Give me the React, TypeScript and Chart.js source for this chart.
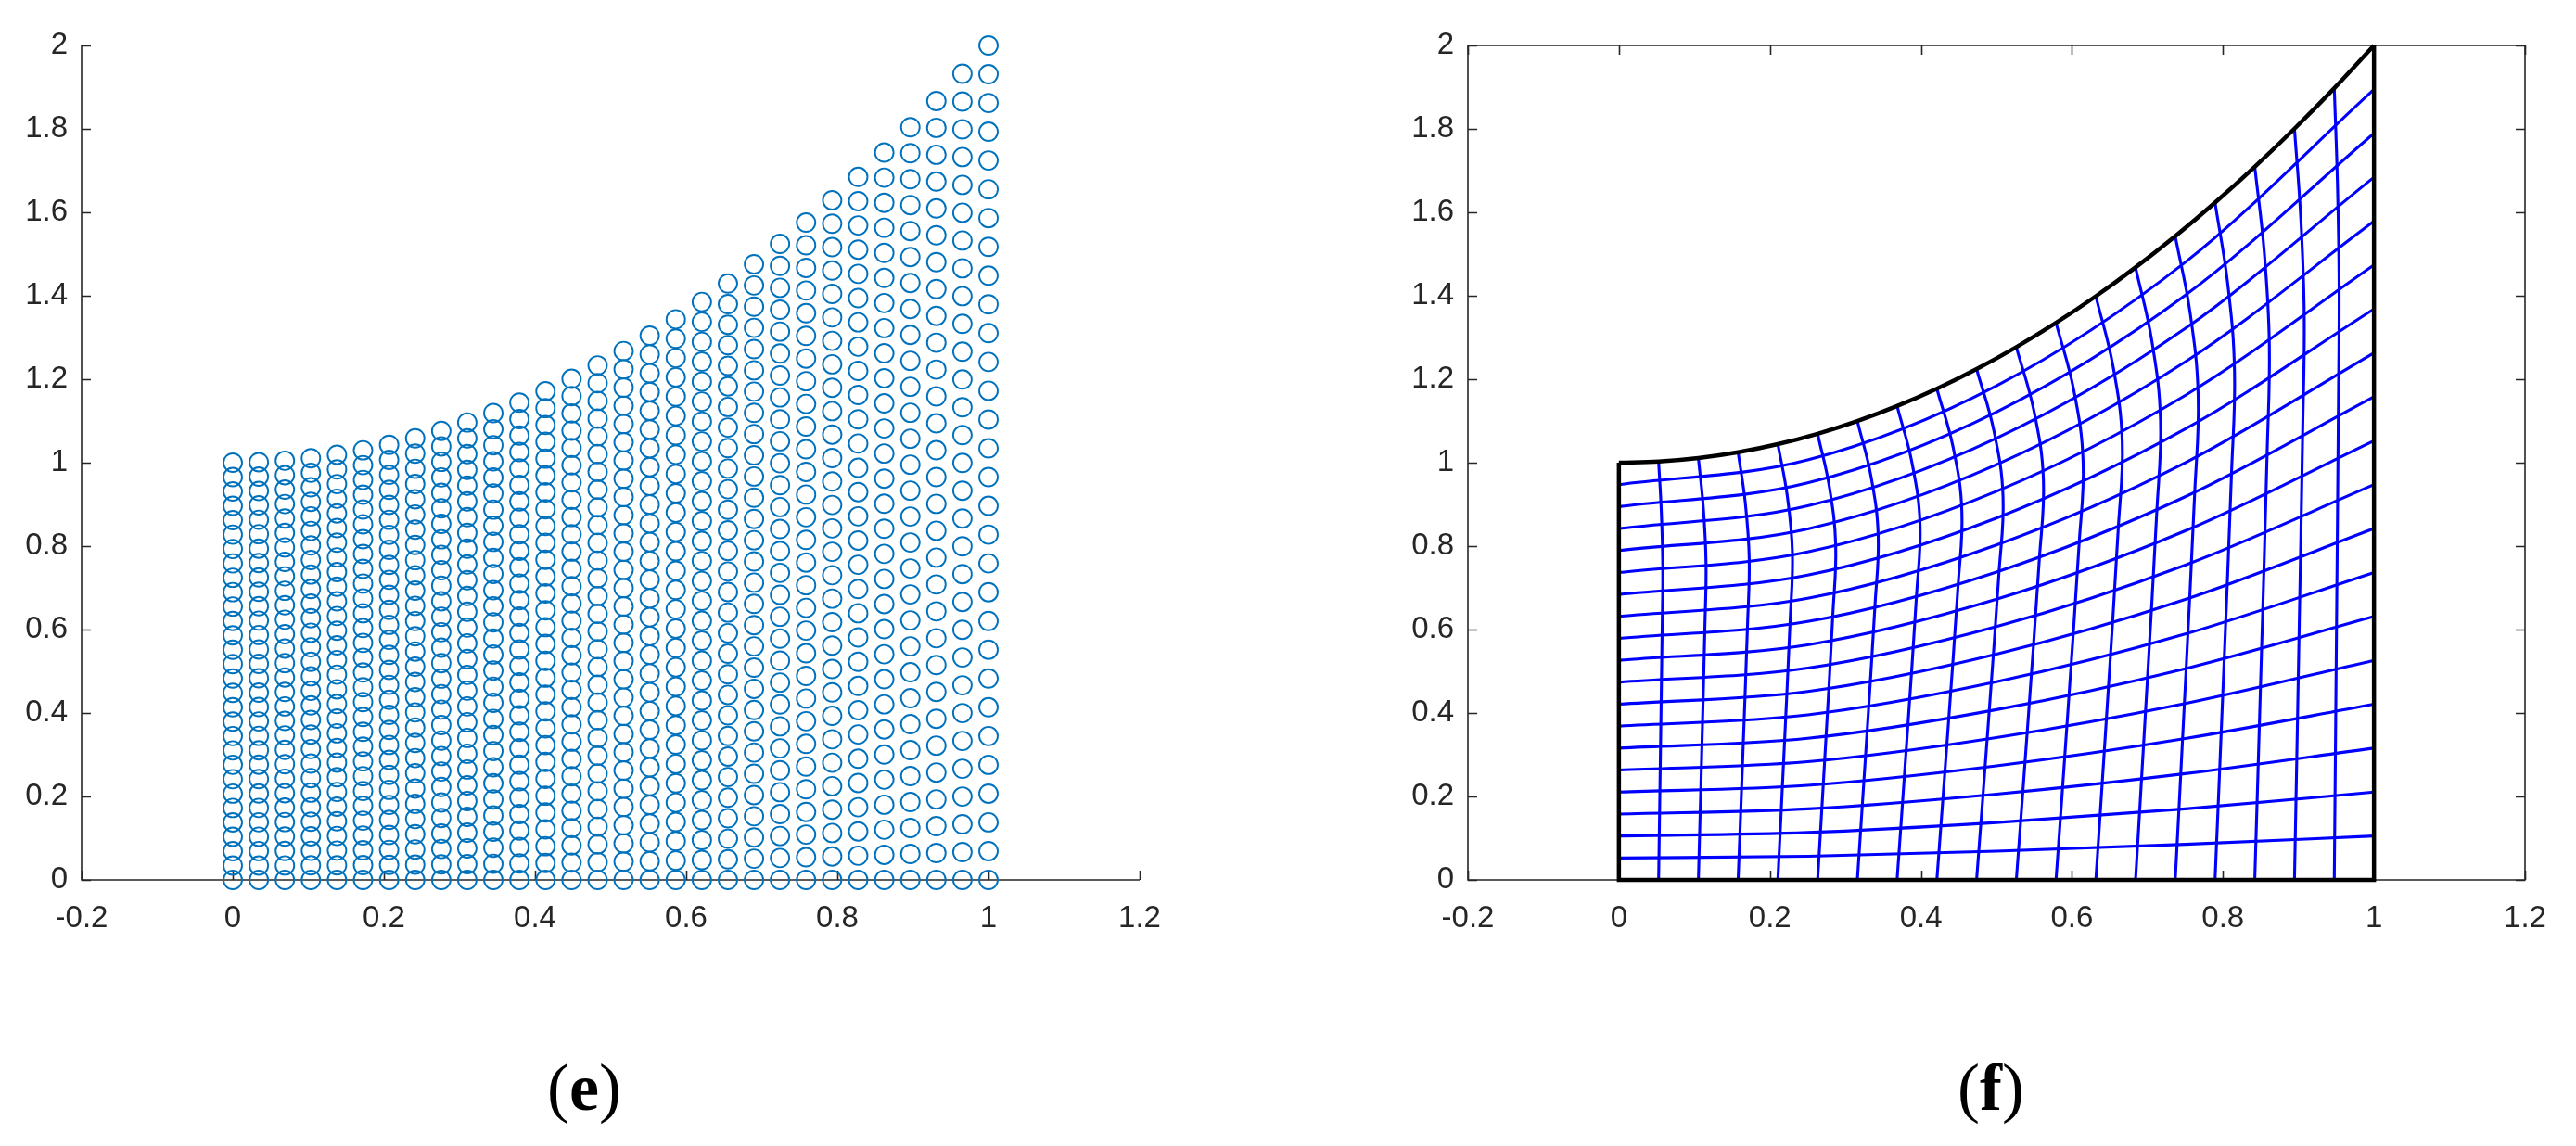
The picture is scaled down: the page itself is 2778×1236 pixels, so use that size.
import React, { useEffect, useRef } from "react";
import { Chart, registerables } from "chart.js";

Chart.register(...registerables);

// ---------- Panel (e): scattered nodes ----------
const E_COLUMN_X = [0, 0.0345, 0.069, 0.1034, 0.1379, 0.1724, 0.2069, 0.2414, 0.2759, 0.3103, 0.3448, 0.3793, 0.4138, 0.4483, 0.4828, 0.5172, 0.5517, 0.5862, 0.6207, 0.6552, 0.6897, 0.7241, 0.7586, 0.7931, 0.8276, 0.8621, 0.8966, 0.931, 0.9655, 1];
const E_COLUMN_TOP = [1, 1.0012, 1.0048, 1.0107, 1.019, 1.0297, 1.0428, 1.0583, 1.0761, 1.0963, 1.1189, 1.1439, 1.1712, 1.201, 1.2331, 1.2675, 1.3044, 1.3436, 1.3853, 1.4293, 1.4757, 1.5243, 1.5755, 1.629, 1.6849, 1.7432, 1.8039, 1.8668, 1.9322, 2];
const E_ROW_FRACTION = [0, 0.0345, 0.069, 0.1034, 0.1379, 0.1724, 0.2069, 0.2414, 0.2759, 0.3103, 0.3448, 0.3793, 0.4138, 0.4483, 0.4828, 0.5172, 0.5517, 0.5862, 0.6207, 0.6552, 0.6897, 0.7241, 0.7586, 0.7931, 0.8276, 0.8621, 0.8966, 0.931, 0.9655, 1];

// ---------- Panel (f): curvilinear mesh ----------
const F_NODE_X = [0, 0.0526, 0.1053, 0.1579, 0.2105, 0.2632, 0.3158, 0.3684, 0.4211, 0.4737, 0.5263, 0.5789, 0.6316, 0.6842, 0.7368, 0.7895, 0.8421, 0.8947, 0.9474, 1];
const F_TOP_Y = [1, 1.0028, 1.0111, 1.0249, 1.0443, 1.0693, 1.0997, 1.1357, 1.1773, 1.2244, 1.277, 1.3351, 1.3989, 1.4681, 1.5429, 1.6233, 1.7091, 1.8005, 1.8976, 2];

// vertical mesh lines: x read at fractions of the local column height
const F_VERT_LEVELS = [0, 0.3, 0.6, 0.75, 0.88, 1];
const F_VERT_X = [
  [0.0526, 0.055, 0.0573, 0.0581, 0.0562, 0.0526],
  [0.1053, 0.1097, 0.1139, 0.1154, 0.1119, 0.1053],
  [0.1579, 0.1643, 0.1704, 0.1726, 0.1675, 0.1579],
  [0.2105, 0.2189, 0.2269, 0.2298, 0.2231, 0.2105],
  [0.2632, 0.2736, 0.2835, 0.2871, 0.2788, 0.2632],
  [0.3158, 0.3278, 0.3392, 0.3434, 0.3338, 0.3158],
  [0.3684, 0.3816, 0.3941, 0.3988, 0.3882, 0.3684],
  [0.4211, 0.4355, 0.4492, 0.4542, 0.4427, 0.4211],
  [0.4737, 0.4889, 0.5033, 0.5087, 0.4965, 0.4737],
  [0.5263, 0.5419, 0.5567, 0.5622, 0.5497, 0.5263],
  [0.5789, 0.5945, 0.6093, 0.6148, 0.6023, 0.5789],
  [0.6316, 0.6468, 0.6612, 0.6666, 0.6544, 0.6316],
  [0.6842, 0.6986, 0.7123, 0.7173, 0.7058, 0.6842],
  [0.7368, 0.75, 0.7625, 0.7672, 0.7566, 0.7368],
  [0.7895, 0.8007, 0.8113, 0.8153, 0.8063, 0.7895],
  [0.8421, 0.8505, 0.8585, 0.8614, 0.8547, 0.8421],
  [0.8947, 0.9003, 0.9056, 0.9076, 0.9031, 0.8947],
  [0.9474, 0.9502, 0.9529, 0.9538, 0.9516, 0.9474],
];

// horizontal mesh lines: y read at these x positions
const F_HORIZ_X = [0, 0.25, 0.5, 0.75, 1];
const F_HORIZ_Y = [
  [0.0526, 0.0568, 0.0689, 0.0852, 0.1053],
  [0.1053, 0.1136, 0.1376, 0.1702, 0.2105],
  [0.1579, 0.1702, 0.2057, 0.2547, 0.3158],
  [0.2105, 0.2267, 0.2735, 0.3389, 0.4211],
  [0.2632, 0.2832, 0.3411, 0.4228, 0.5263],
  [0.3158, 0.3395, 0.4081, 0.5063, 0.6316],
  [0.3684, 0.3956, 0.4748, 0.5893, 0.7368],
  [0.4211, 0.4518, 0.5412, 0.6722, 0.8421],
  [0.4737, 0.5077, 0.6072, 0.7546, 0.9474],
  [0.5263, 0.5635, 0.6727, 0.8366, 1.0526],
  [0.5789, 0.6193, 0.7379, 0.9183, 1.1579],
  [0.6316, 0.675, 0.8029, 0.9997, 1.2632],
  [0.6842, 0.7305, 0.8673, 1.0806, 1.3684],
  [0.7368, 0.7859, 0.9314, 1.1612, 1.4737],
  [0.7895, 0.8413, 0.9952, 1.2416, 1.5789],
  [0.8421, 0.8965, 1.0586, 1.3215, 1.6842],
  [0.8947, 0.9515, 1.1215, 1.401, 1.7895],
  [0.9474, 1.0066, 1.1843, 1.4803, 1.8947],
];

// axes
const X_MIN = -0.2;
const X_MAX = 1.2;
const Y_MIN = 0;
const Y_MAX = 2;
const TICK_STEP = 0.2;

const AXIS_COLOR = "#262626";
const TICK_FONT = { family: "'Liberation Sans', Arial, Helvetica, sans-serif", size: 33 };
const TICK_LEN = 10;

function fmt(v: number) {
  return String(Math.round(v * 10) / 10);
}

function axesPlugin(box: boolean) {
  return {
    id: "matlabAxes" + (box ? "Box" : ""),
    beforeDatasetsDraw(chart: any) {
      const { ctx, chartArea, scales } = chart;
      const { left, right, top, bottom } = chartArea;
      const xs = scales.x;
      const ys = scales.y;
      ctx.save();
      ctx.strokeStyle = AXIS_COLOR;
      ctx.lineWidth = 1.6;
      ctx.beginPath();
      if (box) {
        ctx.rect(left, top, right - left, bottom - top);
      } else {
        ctx.moveTo(left, top);
        ctx.lineTo(left, bottom);
        ctx.lineTo(right, bottom);
      }
      ctx.stroke();
      ctx.beginPath();
      xs.ticks.forEach((t: any) => {
        const px = Math.round(xs.getPixelForValue(t.value)) + 0.5;
        ctx.moveTo(px, bottom);
        ctx.lineTo(px, bottom - TICK_LEN);
        if (box) {
          ctx.moveTo(px, top);
          ctx.lineTo(px, top + TICK_LEN);
        }
      });
      ys.ticks.forEach((t: any) => {
        const py = Math.round(ys.getPixelForValue(t.value)) + 0.5;
        ctx.moveTo(left, py);
        ctx.lineTo(left + TICK_LEN, py);
        if (box) {
          ctx.moveTo(right, py);
          ctx.lineTo(right - TICK_LEN, py);
        }
      });
      ctx.stroke();
      ctx.restore();
    },
  };
}

function makeScales(yWidth: number, xHeight: number) {
  return {
    x: {
      type: "linear" as const,
      min: X_MIN,
      max: X_MAX,
      grid: { display: false, drawTicks: false },
      border: { display: false },
      ticks: { stepSize: TICK_STEP, padding: 22, color: AXIS_COLOR, font: TICK_FONT, callback: (v: any) => fmt(Number(v)), maxRotation: 0, autoSkip: false },
      afterFit: (s: any) => { s.height = xHeight; },
    },
    y: {
      type: "linear" as const,
      min: Y_MIN,
      max: Y_MAX,
      grid: { display: false, drawTicks: false },
      border: { display: false },
      ticks: { stepSize: TICK_STEP, padding: 15, color: AXIS_COLOR, font: TICK_FONT, callback: (v: any) => fmt(Number(v)), autoSkip: false },
      afterFit: (s: any) => { s.width = yWidth; },
    },
  };
}

function buildNodesE() {
  const pts: { x: number; y: number }[] = [];
  E_COLUMN_X.forEach((x, i) => {
    E_ROW_FRACTION.forEach((f) => {
      pts.push({ x, y: f * E_COLUMN_TOP[i] });
    });
  });
  return pts;
}

function configE(): any {
  return {
    type: "scatter",
    data: {
      datasets: [
        {
          data: buildNodesE(),
          pointStyle: "circle",
          pointRadius: 10,
          pointBorderWidth: 1.9,
          pointBorderColor: "#0072BD",
          pointBackgroundColor: "rgba(0,0,0,0)",
          showLine: false,
          clip: false,
        },
      ],
    },
    options: {
      animation: false,
      responsive: false,
      devicePixelRatio: 1,
      layout: { padding: { left: 0, top: 49, right: 71, bottom: 0 } },
      plugins: { legend: { display: false }, tooltip: { enabled: false } },
      scales: makeScales(88, 111),
    },
    plugins: [axesPlugin(false)],
  };
}

function configF(): any {
  const datasets: any[] = [];
  const black = { borderColor: "#000000", borderWidth: 4.5, pointRadius: 0, showLine: true, clip: false, fill: false };
  // boundaries (drawn on top: first datasets are drawn last)
  datasets.push({ ...black, data: F_NODE_X.map((x, i) => ({ x, y: F_TOP_Y[i] })), cubicInterpolationMode: "monotone" });
  datasets.push({ ...black, data: [{ x: F_NODE_X[0], y: F_TOP_Y[0] }, { x: F_NODE_X[0], y: 0 }, { x: F_NODE_X[19], y: 0 }, { x: F_NODE_X[19], y: F_TOP_Y[19] }], borderJoinStyle: "miter" });
  const blue = { borderColor: "#0000FF", borderWidth: 3.1, pointRadius: 0, showLine: true, clip: false, fill: false };
  F_HORIZ_Y.forEach((ys) => {
    datasets.push({ ...blue, data: F_HORIZ_X.map((x, k) => ({ x, y: ys[k] })), cubicInterpolationMode: "monotone" });
  });
  F_VERT_X.forEach((xs, idx) => {
    const top = F_TOP_Y[idx + 1];
    datasets.push({ ...blue, data: xs.map((x, k) => ({ x, y: F_VERT_LEVELS[k] * top })), tension: 0.4 });
  });
  return {
    type: "scatter",
    data: { datasets },
    options: {
      animation: false,
      responsive: false,
      devicePixelRatio: 1,
      layout: { padding: { left: 0, top: 49, right: 55, bottom: 0 } },
      plugins: { legend: { display: false }, tooltip: { enabled: false } },
      scales: makeScales(83, 111),
    },
    plugins: [axesPlugin(true)],
  };
}

function ChartCanvas({ make, left, width, height }: { make: () => any; left: number; width: number; height: number }) {
  const ref = useRef<HTMLCanvasElement>(null);
  useEffect(() => {
    const chart = new Chart(ref.current as HTMLCanvasElement, make());
    return () => chart.destroy();
  }, [make]);
  return (
    <canvas
      ref={ref}
      width={width}
      height={height}
      style={{ position: "absolute", left, top: 0, width, height }}
    />
  );
}

function Caption({ letter, center }: { letter: string; center: number }) {
  return (
    <div
      style={{
        position: "absolute",
        left: center - 100,
        width: 200,
        top: 1137,
        textAlign: "center",
        fontFamily: "'Liberation Serif', 'Times New Roman', serif",
        fontSize: 72,
        lineHeight: "72px",
        color: "#000",
      }}
    >
      (<b>{letter}</b>)
    </div>
  );
}

export default function App() {
  return (
    <div style={{ position: "absolute", left: 0, top: 0, width: 2778, height: 1236, background: "#fff", overflow: "hidden" }}>
      <ChartCanvas make={configE} left={0} width={1300} height={1060} />
      <ChartCanvas make={configF} left={1500} width={1278} height={1060} />
      <Caption letter="e" center={630} />
      <Caption letter="f" center={2147} />
    </div>
  );
}
